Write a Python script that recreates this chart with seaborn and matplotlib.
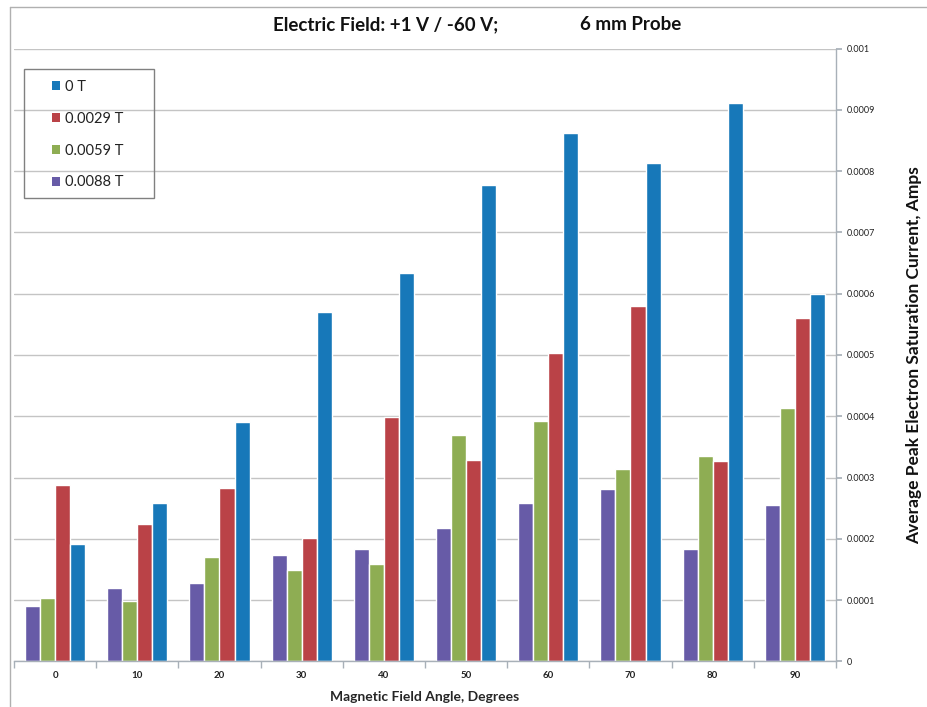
import pandas as pd
import matplotlib
matplotlib.use("Agg")
import matplotlib.pyplot as plt
import seaborn as sns
from matplotlib.patches import Patch, Rectangle
from matplotlib.lines import Line2D

# values (Amps)
angles = ["0", "10", "20", "30", "40", "50", "60", "70", "80", "90"]
series_0T = [0.000191, 0.000258, 0.000391, 0.000570, 0.000634, 0.000777, 0.000862, 0.000814, 0.000911, 0.000599]
series_0029T = [0.000288, 0.000224, 0.000283, 0.000202, 0.000399, 0.000329, 0.000503, 0.000580, 0.000327, 0.000561]
series_0059T = [0.000104, 0.0000985, 0.000170, 0.000149, 0.000159, 0.000370, 0.000392, 0.000314, 0.000335, 0.000413]
series_0088T = [0.0000903, 0.000119, 0.000128, 0.000173, 0.000184, 0.000218, 0.000258, 0.000282, 0.000183, 0.000255]

field_labels = ["0 T", "0.0029 T", "0.0059 T", "0.0088 T"]
colors = {"0 T": "#1778B9", "0.0029 T": "#BA4247", "0.0059 T": "#8EAD53", "0.0088 T": "#675BA7"}

rows = []
for lab, vals in zip(field_labels, [series_0T, series_0029T, series_0059T, series_0088T]):
    for a, v in zip(angles, vals):
        rows.append({"angle": a, "field": lab, "current": v})
df = pd.DataFrame(rows)

sns.set_theme(style="white")
plt.rcParams["font.family"] = ["Lato", "DejaVu Sans"]

fig = plt.figure(figsize=(9.28, 7.07), dpi=100)
W, H = 928, 707
ax = fig.add_axes([14 / W, 1 - 661.4 / H, (836 - 14) / W, (661.4 - 48.6) / H])

hue_order = ["0.0088 T", "0.0059 T", "0.0029 T", "0 T"]
sns.barplot(data=df, x="angle", y="current", hue="field", hue_order=hue_order,
            order=angles, palette=colors, width=0.73, saturation=1, legend=False, ax=ax)

ax.set_ylim(0, 0.001)
ax.set_xlim(-0.5, len(angles) - 0.5)
yt = [i * 0.0001 for i in range(11)]
ax.set_yticks(yt)
ax.set_yticklabels(["0"] + [f"{v:.4f}" for v in yt[1:10]] + ["0.001"])
ax.yaxis.tick_right()
ax.yaxis.set_label_position("right")
ax.grid(axis="y", color="#c4c4c4", lw=1)
ax.set_axisbelow(True)

for s in ["top", "left"]:
    ax.spines[s].set_visible(False)
for s in ["right", "bottom"]:
    ax.spines[s].set_color("#a8b0b8")
    ax.spines[s].set_linewidth(1)

ax.tick_params(axis="y", which="major", length=4, color="#a8b0b8", labelsize=6.5, pad=4, labelcolor="#222222")
ax.set_xticks(range(len(angles)))
ax.set_xticklabels(angles, fontweight="bold")
ax.set_xticks([i - 0.5 for i in range(len(angles) + 1)], minor=True)
ax.tick_params(axis="x", which="major", length=0, labelsize=7, pad=7, labelcolor="#222222")
ax.tick_params(axis="x", which="minor", length=5, color="#a8b0b8", bottom=True)

ax.set_xlabel("Magnetic Field Angle, Degrees", fontsize=10, fontweight="bold", labelpad=8)
ax.set_ylabel("Average Peak Electron Saturation Current, Amps", fontsize=12.5, fontweight="bold",
              labelpad=22, rotation=90, color="#111111")

# legend: entries placed inside a hand-drawn square frame
handles = [Patch(facecolor=colors[l], edgecolor="none") for l in field_labels]
leg = ax.legend(handles, field_labels, loc="upper left", bbox_to_anchor=(52 / W, 1 - 80 / H),
                bbox_transform=fig.transFigure, borderaxespad=0, borderpad=0, frameon=False,
                fontsize=10.5, handlelength=0.55, handleheight=0.55, handletextpad=0.35,
                labelspacing=1.22)
for t in leg.get_texts():
    t.set_color("#222222")
fig.add_artist(Rectangle((24 / W, 1 - 198 / H), 130 / W, 129 / H, transform=fig.transFigure,
                         facecolor="none", edgecolor="#808080", lw=1))

fig.text(498 / W, 1 - 25 / H, "Electric Field: +1 V / -60 V;", ha="right", va="center",
         fontsize=13.5, fontweight="bold", color="#111111")
fig.text(580 / W, 1 - 25 / H, "6 mm Probe", ha="left", va="center",
         fontsize=13.5, fontweight="bold", color="#111111")

# outer chart frame
fig.add_artist(Line2D([10 / W, 10 / W], [0, 1 - 7 / H], color="#b0b0b0", lw=1, transform=fig.transFigure))
fig.add_artist(Line2D([10 / W, 1], [1 - 7 / H, 1 - 7 / H], color="#b0b0b0", lw=1, transform=fig.transFigure))

fig.savefig("out.png", dpi=100)
